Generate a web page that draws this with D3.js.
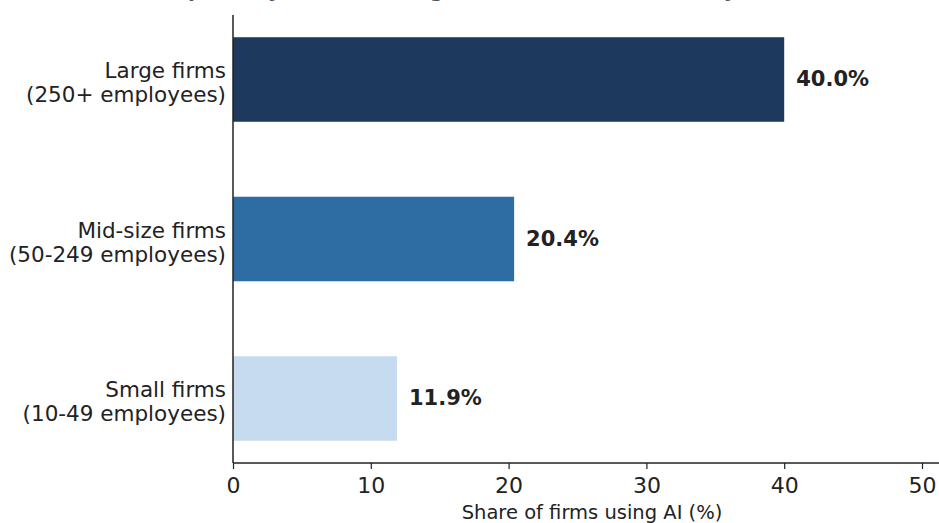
<!DOCTYPE html>
<html>
<head>
<meta charset="utf-8">
<script src="https://cdn.jsdelivr.net/npm/d3@7"></script>
<style>
  html, body { margin: 0; padding: 0; background: #fff; }
  svg { display: block; font-family: "DejaVu Sans", sans-serif; }
</style>
</head>
<body>
<svg id="chart" width="939" height="523"></svg>
<script>
// Firm-size groups, top to bottom
const categories = [
  ["Large firms", "(250+ employees)"],
  ["Mid-size firms", "(50-249 employees)"],
  ["Small firms", "(10-49 employees)"]
];
const shares = [40.0, 20.4, 11.9];
const barColors = ["#1d3a5e", "#2e6da4", "#c6dbef"];
const xTicks = [0, 10, 20, 30, 40, 50];
const xTitle = "Share of firms using AI (%)";
const chartTitle = "AI adoption by firm size: large firms are far more likely to use AI than small firms";

(function () {
  const svg = d3.select("#chart");
  const plotLeft = 233, plotRight = 922, plotTop = 15, plotBottom = 463;
  const ink = "#222";

  const x = d3.scaleLinear().domain([0, 50]).range([plotLeft, plotRight]);
  const y = d3.scaleLinear().domain([0, 2]).range([79.5, 398.5]);
  const barH = (y(1) - y(0)) * 0.53;

  // Title, running off the top edge of the canvas
  svg.append("text")
    .attr("x", 575).attr("y", -3)
    .attr("text-anchor", "middle")
    .attr("font-size", 20).attr("font-weight", "bold")
    .attr("fill", "#555")
    .text(chartTitle);

  // Bars
  svg.selectAll("rect.bar")
    .data(shares)
    .enter().append("rect")
    .attr("class", "bar")
    .attr("x", x(0))
    .attr("y", (d, i) => y(i) - barH / 2)
    .attr("width", d => x(d) - x(0))
    .attr("height", barH)
    .attr("fill", (d, i) => barColors[i]);

  // Value labels
  svg.selectAll("text.val")
    .data(shares)
    .enter().append("text")
    .attr("class", "val")
    .attr("x", d => x(d) + 12)
    .attr("y", (d, i) => y(i))
    .attr("dy", "0.32em")
    .attr("font-size", 21).attr("font-weight", "bold")
    .attr("fill", ink)
    .text(d => d.toFixed(1) + "%");

  // Category labels (two lines each)
  svg.selectAll("text.cat")
    .data(categories)
    .enter().append("text")
    .attr("class", "cat")
    .attr("text-anchor", "end")
    .attr("font-size", 21.5)
    .attr("fill", ink)
    .each(function (d, i) {
      const t = d3.select(this);
      t.append("tspan").attr("x", 226).attr("y", y(i) - 1.5).text(d[0]);
      t.append("tspan").attr("x", 226).attr("y", y(i) + 22.5).text(d[1]);
    });

  // X axis
  const xAxis = d3.axisBottom(x).tickValues(xTicks).tickSize(6).tickSizeOuter(0).tickPadding(8);
  const gx = svg.append("g").attr("transform", `translate(0,${plotBottom})`).call(xAxis);
  gx.select(".domain").attr("stroke", ink).attr("stroke-width", 1.5)
    .attr("d", `M${plotLeft},0H939`);
  gx.selectAll(".tick line").attr("stroke", ink).attr("stroke-width", 1.2);
  gx.selectAll(".tick text").attr("font-size", 22).attr("fill", ink)
    .attr("font-family", "DejaVu Sans, sans-serif");

  // Left spine
  svg.append("line")
    .attr("x1", plotLeft).attr("x2", plotLeft)
    .attr("y1", plotTop).attr("y2", plotBottom)
    .attr("stroke", ink).attr("stroke-width", 1.5);

  // X axis title
  svg.append("text")
    .attr("x", 592).attr("y", 519)
    .attr("text-anchor", "middle")
    .attr("font-size", 19.5)
    .attr("fill", ink)
    .text(xTitle);
})();
</script>
</body>
</html>
